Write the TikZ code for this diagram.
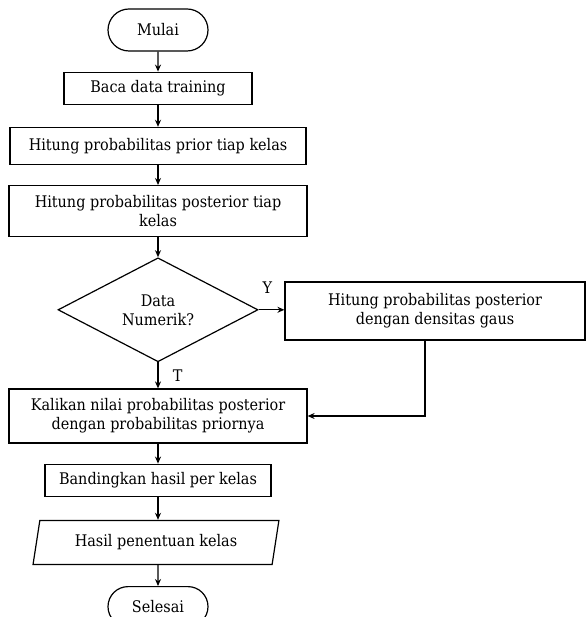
\documentclass[tikz,border=0pt]{standalone}
\usepackage{fontspec}
\setmainfont{DejaVu Serif Condensed}
\usetikzlibrary{shapes.geometric, shapes.misc, positioning, arrows.meta}
\tikzset{
    >={Stealth[length=7pt,width=6pt]},
    base/.style={draw, line width=1.2pt, align=center,
        font=\fontsize{16}{19}\selectfont, inner sep=2pt},
    proc/.style={base, rectangle, minimum height=32pt},
    term/.style={base, rounded rectangle, minimum width=104pt, minimum height=42pt},
    dec/.style={base, diamond, aspect=1.9, minimum width=200pt, minimum height=104pt, inner sep=0pt},
    io/.style={base, trapezium, trapezium left angle=76, trapezium right angle=104,
        trapezium stretches=true, minimum width=246pt, minimum height=44pt},
    line/.style={->, line width=1.2pt},
    lbl/.style={font=\fontsize{16}{19}\selectfont},
}

\begin{document}
\begin{tikzpicture}[x=1pt, y=-1pt]
\useasboundingbox (0,0) rectangle (586,617);

\node[term] (mulai) at (158,30) {Mulai};
\node[proc, minimum width=188pt] (baca) [below=20pt of mulai] {Baca data training};
\node[proc, minimum width=296pt, minimum height=37pt] (prior) [below=22pt of baca] {Hitung probabilitas prior tiap kelas};
\node[proc, minimum width=298pt, minimum height=51pt] (post) [below=20pt of prior] {Hitung probabilitas posterior tiap\\kelas};
\node[dec] (numerik) [below=20pt of post] {Data\\Numerik?};
\node[proc, minimum width=298pt, minimum height=54pt] (kali) [below=26pt of numerik] {Kalikan nilai probabilitas posterior\\dengan probabilitas priornya};
\node[proc, minimum width=226pt] (banding) [below=20pt of kali] {Bandingkan hasil per kelas};
\node[io] (hasil) [below=23pt of banding, xshift=-2pt] {Hasil penentuan kelas};
\node[term, minimum height=40pt] (selesai) [below=21pt of hasil, xshift=2pt] {Selesai};
\node[proc, minimum width=300pt, minimum height=58pt] (gaus) at (435,311) {Hitung probabilitas posterior\\dengan densitas gaus};

\draw[line] (mulai) -- (baca);
\draw[line] (baca) -- (prior);
\draw[line] (prior) -- (post);
\draw[line] (post) -- (numerik);
\draw[line] (numerik) -- (kali) node[lbl, midway, right=11pt] {T};
\draw[line] (numerik.east) -- (numerik.east -| gaus.west)
    node[lbl, pos=0, above right, yshift=12pt] {Y};
\draw[line] ([xshift=-10pt]gaus.south) |- (kali.east);
\draw[line] (kali) -- (banding);
\draw[line] (banding.south) -- (banding.south |- hasil.north);
\draw[line] (selesai.north |- hasil.south) -- (selesai);

\end{tikzpicture}
\end{document}
